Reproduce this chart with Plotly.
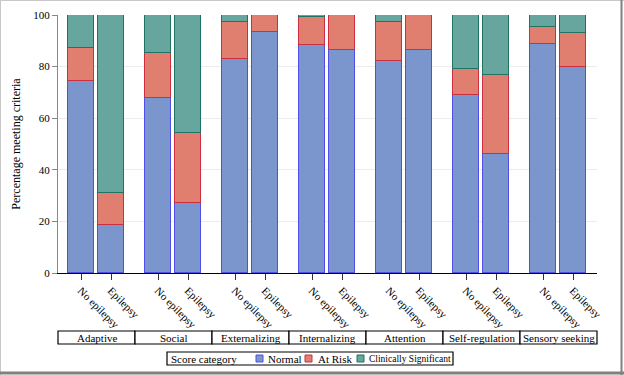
import plotly.graph_objects as go

domains = ["Adaptive", "Social", "Externalizing", "Internalizing", "Attention",
           "Self-regulation", "Sensory seeking"]
cohorts = ["No epilepsy", "Epilepsy"]

# values per domain: [No epilepsy, Epilepsy]
normal = [[74.4, 18.5], [67.7, 27.0], [82.8, 93.3], [88.2, 86.6], [82.0, 86.6],
          [68.9, 46.0], [88.8, 80.0]]
at_risk = [[12.7, 12.5], [17.7, 27.3], [14.4, 6.7], [10.9, 13.4], [15.3, 13.4],
           [10.1, 30.7], [6.4, 13.1]]
clin_sig = [[12.9, 69.0], [14.6, 45.7], [2.8, 0.0], [0.9, 0.0], [2.7, 0.0],
            [21.0, 23.3], [4.8, 6.9]]

series_names = ["Normal", "At Risk", "Clinically Significant"]
fills = ["#7b96cd", "#e07f6f", "#67a69f"]
lines = ["#4f4fe8", "#cc3040", "#1e7363"]
legend_title = "Score category"

# layout: bar offsets within each group unit
offsets = [23 / 77, 53 / 77]
bar_w = 26 / 77

xs, labels = [], []
for g in range(len(domains)):
    for i, c in enumerate(cohorts):
        xs.append(g + offsets[i])
        labels.append(c)

FONT = "Liberation Serif"
fig = go.Figure()
for name, vals, fill, line in zip(series_names, [normal, at_risk, clin_sig], fills, lines):
    y = [v for pair in vals for v in pair]
    fig.add_trace(go.Bar(x=xs, y=y, name=name, width=bar_w, showlegend=False,
                         hoverinfo="skip",
                         marker=dict(color=fill, line=dict(color=line, width=1.2))))

L, R, T, B = 58, 597, 15, 273
W, H = 624, 375
pw, ph = R - L, B - T

def px(x):
    return (x - L) / pw

def py(y):
    return (B - y) / ph

shapes = []
annotations = []
for g, d in enumerate(domains):
    shapes.append(dict(type="rect", xref="paper", yref="paper",
                       x0=g / len(domains), x1=(g + 1) / len(domains),
                       y0=py(344), y1=py(331),
                       line=dict(color="black", width=1.2), fillcolor="white", layer="above"))
    annotations.append(dict(xref="paper", yref="paper", x=(g + 0.5) / len(domains),
                            y=py(337.5), text=d, showarrow=False,
                            font=dict(family=FONT, size=11, color="black"),
                            xanchor="center", yanchor="middle"))

# manual legend
shapes.append(dict(type="rect", xref="paper", yref="paper", x0=px(167), x1=px(453),
                   y0=py(365), y1=py(352), line=dict(color="black", width=1.2),
                   fillcolor="white"))
annotations.append(dict(xref="paper", yref="paper", x=px(169), y=py(358.5), text=legend_title,
                        showarrow=False, xanchor="left", yanchor="middle",
                        font=dict(family=FONT, size=11, color="black")))
sq_x = [256, 305, 357]
tx_x = [266, 316, 367]
tx_size = [11, 11, 9.5]
for k in range(3):
    shapes.append(dict(type="rect", xref="paper", yref="paper", x0=px(sq_x[k]),
                       x1=px(sq_x[k] + 7), y0=py(362), y1=py(355),
                       line=dict(color=lines[k], width=1), fillcolor=fills[k]))
    annotations.append(dict(xref="paper", yref="paper", x=px(tx_x[k]), y=py(358.5),
                            text=series_names[k], showarrow=False, xanchor="left",
                            yanchor="middle",
                            font=dict(family=FONT, size=tx_size[k], color="black")))

# outer frame
shapes += [
    dict(type="line", xref="paper", yref="paper", x0=px(0), x1=px(W), y0=py(0.5), y1=py(0.5),
         line=dict(color="#c8c8c8", width=1)),
    dict(type="line", xref="paper", yref="paper", x0=px(0.5), x1=px(0.5), y0=py(0), y1=py(H),
         line=dict(color="#c8c8c8", width=1)),
    dict(type="line", xref="paper", yref="paper", x0=px(0), x1=px(W), y0=py(373), y1=py(373),
         line=dict(color="#808080", width=3)),
    dict(type="line", xref="paper", yref="paper", x0=px(621.5), x1=px(621.5), y0=py(0), y1=py(H),
         line=dict(color="#808080", width=2)),
]

fig.update_layout(
    width=W, height=H,
    margin=dict(l=L, r=W - R, t=T, b=H - B, autoexpand=False),
    barmode="stack",
    bargap=0,
    showlegend=False,
    hovermode=False,
    plot_bgcolor="white", paper_bgcolor="white",
    font=dict(family=FONT, size=11, color="black"),
    xaxis=dict(range=[0, len(domains)], tickmode="array", tickvals=xs, ticktext=labels,
               tickangle=45, ticks="outside", ticklen=6, tickcolor="#333333",
               showline=True, linecolor="black", linewidth=1, showgrid=False,
               zeroline=False, tickfont=dict(family=FONT, size=11)),
    yaxis=dict(range=[0, 100], tickvals=[0, 20, 40, 60, 80, 100],
               ticks="outside", ticklen=5, tickcolor="#888888",
               showline=True, linecolor="#888888", linewidth=1,
               showgrid=True, gridcolor="#ececec", gridwidth=1, zeroline=False,
               title=dict(text="Percentage meeting criteria", standoff=10,
                          font=dict(family=FONT, size=12)),
               tickfont=dict(family=FONT, size=11)),
    shapes=shapes,
    annotations=annotations,
)

fig.write_html("out.html", config={"displayModeBar": False},
               post_script="document.body.style.margin='0px';")
